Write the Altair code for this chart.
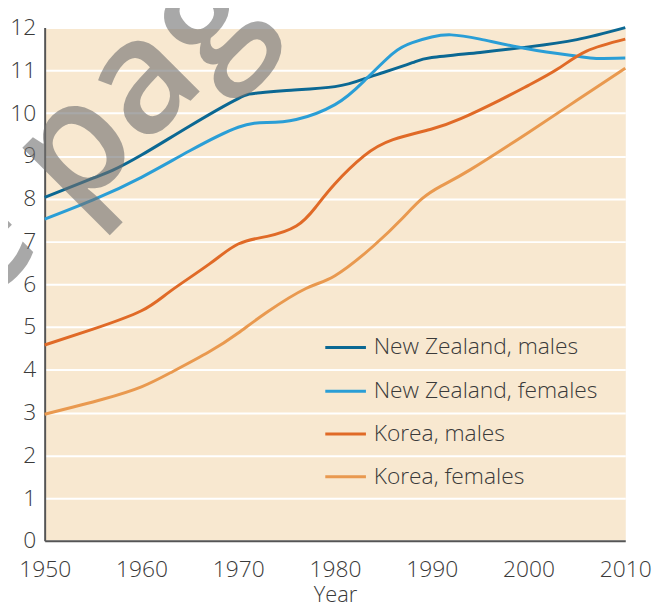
import altair as alt
import pandas as pd

series_names = ["New Zealand, males", "New Zealand, females", "Korea, males", "Korea, females"]
colors = ["#0b6893", "#2a9ed6", "#e06a27", "#e9994f"]

nzm_years = [1950, 1955, 1957, 1960, 1965, 1970, 1972, 1975, 1980, 1983, 1985, 1988, 1990, 1995, 2000, 2005, 2010]
nzm_vals = [8.03, 8.48, 8.66, 9.02, 9.7, 10.34, 10.47, 10.53, 10.62, 10.8, 10.95, 11.18, 11.3, 11.42, 11.55, 11.72, 12.0]

nzf_years = [1950, 1955, 1960, 1965, 1970, 1973, 1976, 1980, 1983, 1986, 1988, 1990, 1992, 1995, 2000, 2005, 2007, 2010]
nzf_vals = [7.52, 7.97, 8.5, 9.12, 9.67, 9.78, 9.85, 10.2, 10.75, 11.4, 11.65, 11.78, 11.83, 11.73, 11.5, 11.33, 11.28, 11.29]

km_years = [1950, 1955, 1960, 1963, 1967, 1970, 1973, 1976, 1978, 1980, 1983, 1986, 1990, 1993, 1997, 2000, 2003, 2006, 2010]
km_vals = [4.58, 4.95, 5.38, 5.84, 6.47, 6.94, 7.12, 7.36, 7.8, 8.35, 9.0, 9.38, 9.63, 9.87, 10.3, 10.65, 11.03, 11.45, 11.73]

kf_years = [1950, 1956, 1960, 1963, 1967, 1970, 1973, 1977, 1980, 1984, 1987, 1989, 1991, 1994, 2000, 2005, 2010]
kf_vals = [2.96, 3.31, 3.6, 3.93, 4.42, 4.86, 5.35, 5.9, 6.2, 6.9, 7.55, 8.0, 8.3, 8.68, 9.55, 10.3, 11.05]

x_ticks = [1950, 1960, 1970, 1980, 1990, 2000, 2010]
y_ticks = list(range(0, 13))

# legend rows (in data units of the chart's own scales)
legend_rows = [4.52, 3.5, 2.5, 1.5]
legend_x1, legend_x2, legend_tx = 1979.0, 1983.2, 1984.0

rows = []
for name, ys, vs in zip(series_names,
                        [nzm_years, nzf_years, km_years, kf_years],
                        [nzm_vals, nzf_vals, km_vals, kf_vals]):
    for yr, v in zip(ys, vs):
        rows.append({"series": name, "year": yr, "value": v})
df = pd.DataFrame(rows)

leg = pd.DataFrame({
    "series": series_names,
    "y": legend_rows,
    "x1": [legend_x1] * 4,
    "x2": [legend_x2] * 4,
    "tx": [legend_tx] * 4,
})

FONT = "Open Sans"
TXT = "#3a3a3a"

x_scale = alt.Scale(domain=[1950, 2010], nice=False)
y_scale = alt.Scale(domain=[0, 12], nice=False)
color_scale = alt.Scale(domain=series_names, range=colors)

lines = alt.Chart(df).mark_line(strokeWidth=3, interpolate="natural").encode(
    x=alt.X("year:Q", scale=x_scale,
            axis=alt.Axis(title="Year", values=x_ticks, format="d", grid=False, ticks=False,
                          labelFlush=False, labelOverlap=False,
                          domainColor="#555555", domainWidth=2, labelPadding=18,
                          labelFontSize=23, titleFontSize=22, titlePadding=3)),
    y=alt.Y("value:Q", scale=y_scale,
            axis=alt.Axis(title=None, values=y_ticks, grid=True, gridColor="white", gridWidth=2,
                          ticks=False, domainColor="#555555", domainWidth=2, labelPadding=9,
                          labelFontSize=23)),
    color=alt.Color("series:N", scale=color_scale, legend=None),
    order="year:Q",
)

leg_rules = alt.Chart(leg).mark_rule(strokeWidth=3).encode(
    x=alt.X("x1:Q", scale=x_scale),
    x2="x2:Q",
    y=alt.Y("y:Q", scale=y_scale),
    color=alt.Color("series:N", scale=color_scale, legend=None),
)

leg_text = alt.Chart(leg).mark_text(align="left", baseline="middle", fontSize=23, font=FONT,
                                    fontWeight=300, color=TXT).encode(
    x=alt.X("tx:Q", scale=x_scale),
    y=alt.Y("y:Q", scale=y_scale),
    text="series:N",
)

watermark = alt.Chart(pd.DataFrame({"t": ["e page"]})).mark_text(
    angle=315, align="center", baseline="alphabetic", fontSize=160, font=FONT,
    fontWeight=600, color="#707070", opacity=0.6
).encode(x=alt.value(114), y=alt.value(107), text="t:N")

chart = alt.layer(lines, leg_rules, leg_text, watermark).properties(
    width=586, height=518,
    autosize=alt.AutoSizeParams(type="none"),
    padding={"left": 37, "top": 17, "right": 30, "bottom": 68},
    background="white",
).configure_view(fill="#f8e8d0", stroke="transparent").configure_axis(
    labelFont=FONT, labelFontWeight=300, labelColor=TXT,
    titleFont=FONT, titleFontWeight=300, titleColor=TXT,
)

chart.save("out.html", embed_options={"renderer": "svg", "actions": False})
